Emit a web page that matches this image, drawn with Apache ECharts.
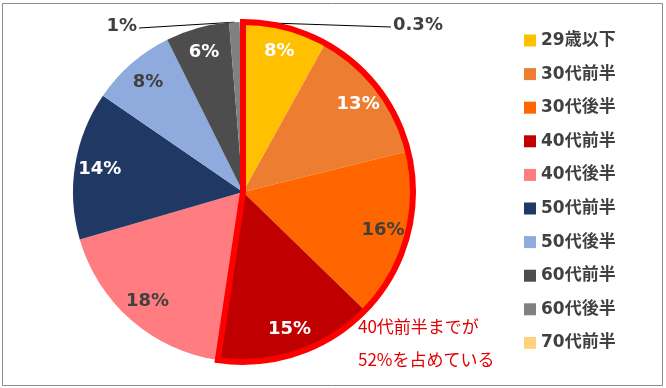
<!DOCTYPE html>
<html><head><meta charset="utf-8">
<script src="https://cdn.jsdelivr.net/npm/echarts@6/dist/echarts.min.js"></script>
<style>html,body{margin:0;padding:0;background:#fff}#c{width:666px;height:388px}</style>
</head><body><div id="c"></div>
<script>
// ---- data ----
const categories = ['29歳以下','30代前半','30代後半','40代前半','40代後半','50代前半','50代後半','60代前半','60代後半','70代前半'];
const values = [8, 13, 16, 15, 18, 14, 8, 6, 1, 0.3];
const highlightCount = 4; // groups up to 40代前半 outlined in red
const noteLines = ['40代前半までが', '52%を占めている'];

// ---- styles ----
const colors = ['#FFC000','#ED7D31','#FF6600','#C00000','#FF7C80','#203864','#8FAADC','#4D4D4D','#808080','#FFD280'];
const darkLabel = [false,false,true,false,true,false,true,false,true,true];
const outsideIdx = [8, 9];
const CENTER = [243, 192];
const R = 170;
const pctFont = "'DejaVu Sans', 'Noto Sans CJK JP', sans-serif";

const sum = a => a.reduce((s, v) => s + v, 0);
const chart = echarts.init(document.getElementById('c'), null, {renderer: 'canvas'});

const mainData = categories.map((n, i) => {
  const d = {name: n, value: values[i], itemStyle: {color: colors[i]}};
  if (outsideIdx.includes(i)) {
    d.label = {show: true, position: 'outside'};
    d.labelLine = {show: true};
  }
  return d;
});
const labelData = categories.map((n, i) => ({
  name: n, value: values[i],
  label: {show: !outsideIdx.includes(i), color: darkLabel[i] ? '#404040' : '#ffffff'}
}));
const outlineData = [
  {name: '__hl', value: sum(values.slice(0, highlightCount)),
   itemStyle: {color: 'rgba(0,0,0,0)', borderColor: '#FF0000', borderWidth: 6, borderJoin: 'miter'}},
  {name: '__rest', value: sum(values.slice(highlightCount)),
   itemStyle: {color: 'rgba(0,0,0,0)', borderWidth: 0}}
];

const option = {
  animation: false,
  legend: {
    orient: 'vertical', left: 524, top: 32, padding: 0,
    data: categories, icon: 'rect', itemWidth: 12, itemHeight: 12, itemGap: 16.6,
    selectedMode: false,
    textStyle: {fontFamily: pctFont, fontWeight: 'bold', fontSize: 17, color: '#404040', lineHeight: 14}
  },
  graphic: [
    {type: 'rect', shape: {x: 2.5, y: 3.5, width: 660, height: 382}, style: {fill: 'none', stroke: '#8c8c8c', lineWidth: 1}, silent: true},
    {type: 'text', x: 358, y: 327, style: {text: noteLines[0], fill: '#E00000', font: "17px 'Noto Sans CJK JP'", verticalAlign: 'middle'}},
    {type: 'text', x: 358, y: 360, style: {text: noteLines[1], fill: '#E00000', font: "17px 'Noto Sans CJK JP'", verticalAlign: 'middle'}}
  ],
  series: [
    {
      type: 'pie', center: CENTER, radius: [0, R], startAngle: 90, clockwise: true,
      avoidLabelOverlap: false, silent: true,
      itemStyle: {borderWidth: 0},
      label: {show: false, formatter: '{c}%', fontFamily: pctFont, fontWeight: 'bold', fontSize: 18, color: '#404040'},
      labelLine: {show: false, lineStyle: {color: '#000', width: 1}, length: 10, length2: 10},
      labelLayout: function (p) {
        if (p.dataIndex === 8) {
          return {x: 137, y: 26, align: 'right', verticalAlign: 'middle',
                  labelLinePoints: [p.labelLinePoints[0], [139, 28], [139, 28]]};
        }
        if (p.dataIndex === 9) {
          return {x: 393, y: 25, align: 'left', verticalAlign: 'middle',
                  labelLinePoints: [p.labelLinePoints[0], [391, 27], [391, 27]]};
        }
        return {};
      },
      emphasis: {disabled: true},
      data: mainData
    },
    {
      type: 'pie', center: CENTER, radius: [114, R], startAngle: 90, clockwise: true,
      avoidLabelOverlap: false, silent: true,
      itemStyle: {color: 'rgba(0,0,0,0)', borderWidth: 0},
      label: {show: true, position: 'inside', formatter: '{c}%', fontFamily: pctFont, fontWeight: 'bold', fontSize: 18},
      labelLine: {show: false},
      emphasis: {disabled: true},
      data: labelData
    },
    {
      type: 'pie', center: CENTER, radius: [0, R], startAngle: 90, clockwise: true,
      silent: true, label: {show: false}, labelLine: {show: false},
      emphasis: {disabled: true},
      data: outlineData
    }
  ]
};
chart.setOption(option);
</script>
</body></html>
